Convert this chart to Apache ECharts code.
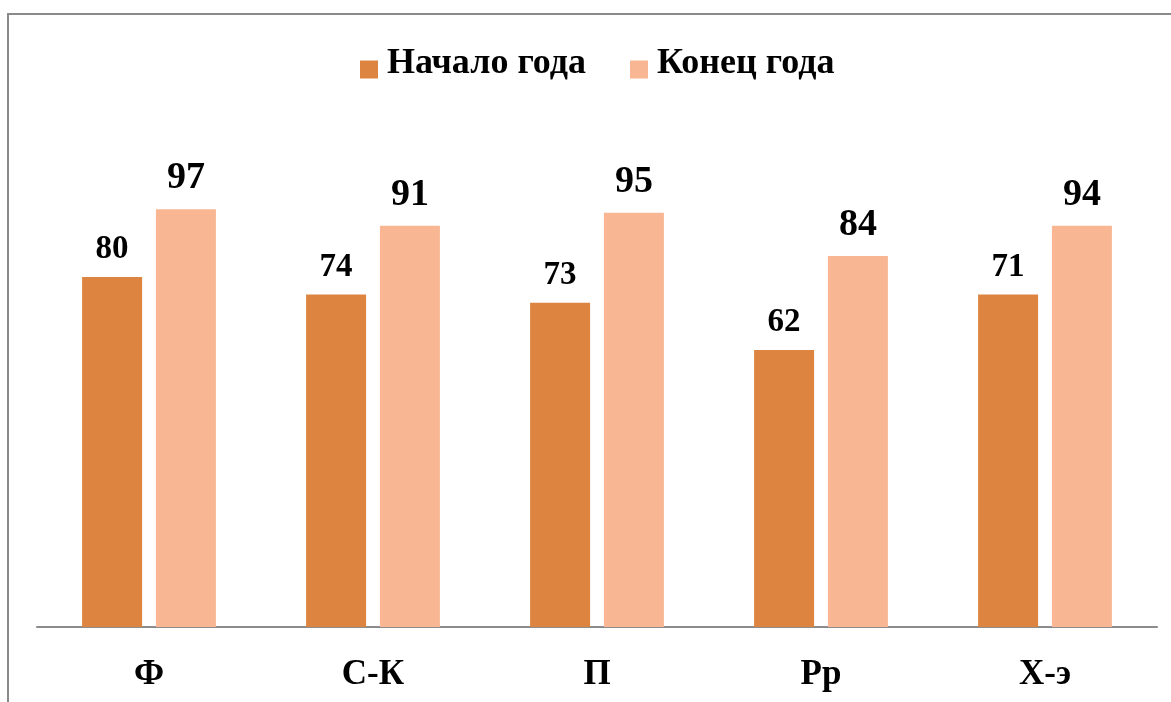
<!DOCTYPE html>
<html>
<head>
<meta charset="utf-8">
<script src="https://cdn.jsdelivr.net/npm/echarts@6/dist/echarts.min.js"></script>
<style>
html,body{margin:0;padding:0;background:#fff;}
#chart{width:1171px;height:702px;}
</style>
</head>
<body>
<div id="chart"></div>
<script>
// Categories
const categories = ['Ф', 'С-К', 'П', 'Рр', 'Х-э'];
// Series names
const seriesNames = ['Начало года', 'Конец года'];
// Bar heights
const startValues = [80, 76.0, 74.1, 63.3, 76.0];
const endValues = [95.5, 91.7, 94.7, 84.8, 91.7];
// Printed data labels
const startLabels = ['80', '74', '73', '62', '71'];
const endLabels = ['97', '91', '95', '84', '94'];

const FONT = "'Liberation Serif', 'Times New Roman', serif";

const chart = echarts.init(document.getElementById('chart'), null, {renderer: 'canvas'});
chart.setOption({
  animation: false,
  backgroundColor: '#ffffff',
  graphic: [
    {type: 'line', shape: {x1: 8, y1: 14, x2: 8, y2: 702}, style: {stroke: '#8a8a8a', lineWidth: 2}},
    {type: 'line', shape: {x1: 7, y1: 14, x2: 1171, y2: 14}, style: {stroke: '#8a8a8a', lineWidth: 2}}
  ],
  legend: {
    data: seriesNames,
    left: 355,
    top: 41,
    itemWidth: 18,
    itemHeight: 18,
    itemGap: 44,
    icon: 'rect',
    formatter: name => '{t|' + name + '}',
    textStyle: {
      fontFamily: FONT, fontWeight: 'bold', fontSize: 36, color: '#000',
      rich: {
        t: {fontFamily: FONT, fontWeight: 'bold', fontSize: 36, color: '#000', padding: [0, 0, 11, 4]}
      }
    }
  },
  grid: {left: 37, right: 14, top: 189.5, bottom: 75, containLabel: false},
  xAxis: {
    type: 'category',
    data: categories,
    axisLine: {lineStyle: {color: '#8c8c8c', width: 2}},
    axisTick: {show: false},
    axisLabel: {fontFamily: FONT, fontWeight: 'bold', fontSize: 35, color: '#000', margin: 30}
  },
  yAxis: {
    type: 'value',
    min: 0,
    max: 100,
    show: false,
    splitLine: {show: false}
  },
  series: [
    {
      name: seriesNames[0],
      type: 'bar',
      data: startValues,
      barWidth: 60,
      barGap: '23%',
      itemStyle: {color: '#DD8540'},
      label: {
        show: true, position: 'top', distance: 11,
        fontFamily: FONT, fontWeight: 'bold', fontSize: 33, color: '#000',
        formatter: p => startLabels[p.dataIndex]
      }
    },
    {
      name: seriesNames[1],
      type: 'bar',
      data: endValues,
      barWidth: 60,
      barGap: '23%',
      itemStyle: {color: '#F8B692'},
      label: {
        show: true, position: 'top', distance: 12,
        fontFamily: FONT, fontWeight: 'bold', fontSize: 38, color: '#000',
        formatter: p => endLabels[p.dataIndex]
      }
    }
  ]
});
</script>
</body>
</html>
